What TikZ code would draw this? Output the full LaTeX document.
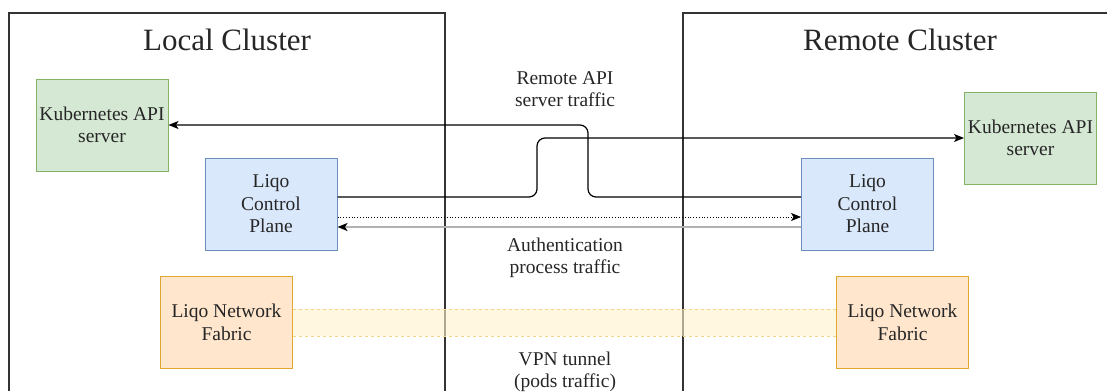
\documentclass[tikz,border=0pt]{standalone}
\usepackage{fontspec}
\setmainfont{Liberation Serif}
\usetikzlibrary{arrows.meta,positioning}
\definecolor{kgreen}{HTML}{D5E8D4}
\definecolor{kgreenline}{HTML}{82B366}
\definecolor{lblue}{HTML}{DAE8FC}
\definecolor{lblueline}{HTML}{6C8EBF}
\definecolor{nfill}{HTML}{FFE6CC}
\definecolor{nline}{HTML}{E0A830}
\definecolor{tunnel}{HTML}{FFF2CC}
\definecolor{tunnelline}{HTML}{F5D58A}
\definecolor{frame}{HTML}{333333}

\begin{document}
\begin{tikzpicture}[x=1pt,y=-1pt,
	txt/.style={font=\fontsize{19.5}{22.5}\selectfont, align=center, text=black!85},
	title/.style={font=\fontsize{31}{36}\selectfont, text=black!85},
	box/.style={txt, draw, line width=1pt, minimum width=132pt, minimum height=92pt, inner sep=0pt},
	apibox/.style={box, fill=kgreen, draw=kgreenline},
	cpbox/.style={box, fill=lblue, draw=lblueline},
	nfbox/.style={box, fill=nfill, draw=nline},
	link/.style={line width=1.2pt, -{Stealth[length=10pt,width=8pt,inset=2.5pt]}},
	cluster/.style={draw=frame, line width=2pt}]
	\useasboundingbox (0,0) rectangle (1107,391);
	\draw[cluster] (9,391) -- (9,13) -- (445,13) -- (445,391);
	\draw[cluster] (1107,13) -- (683,13) -- (683,391);
	\node[title] (ltitle) at (227,40) {Local Cluster};
	\node[title] (rtitle) at (900,40) {Remote Cluster};
	\node[apibox] (lapi) at (102,125) {Kubernetes API\\server};
	\node[cpbox] (lcp) at (271,204) {Liqo\\Control\\Plane};
	\node[nfbox] (lnf) at (226.5,322.5) {Liqo Network\\Fabric};
	\node[apibox] (rapi) at (1030.5,138) {Kubernetes API\\server};
	\node[cpbox] (rcp) at (867.5,204) {Liqo\\Control\\Plane};
	\node[nfbox] (rnf) at (902.5,322.5) {Liqo Network\\Fabric};
	\node[txt] (apilabel) at (565,89) {Remote API\\server traffic};
	\node[txt] (authlabel) at (565,258) {Authentication\\process traffic};
	\node[txt] (vpnlabel) at (565,372) {VPN tunnel\\(pods traffic)};
	\fill[tunnel, opacity=0.6] ([yshift=13.5pt]lnf.east) rectangle ([yshift=-13.5pt]rnf.west);
	\draw[tunnelline, dashed, line width=1pt] ([yshift=13.5pt]lnf.east) -- ([yshift=13.5pt]rnf.west);
	\draw[tunnelline, dashed, line width=1pt] ([yshift=-13.5pt]lnf.east) -- ([yshift=-13.5pt]rnf.west);
	\draw[link, rounded corners=8pt] ([yshift=7pt]rcp.west) -- (588,197) -- (588,125) -- (lapi.east);
	\draw[link, rounded corners=8pt] ([yshift=7pt]lcp.east) -- (537,197) -- (537,138) -- (rapi.west);
	\draw[link, line width=0.8pt, dotted] ([yshift=-13pt]lcp.east) -- ([yshift=-13pt]rcp.west);
	\draw[link, line width=1.5pt, black!30, -{Stealth[length=10pt,width=8pt,inset=2.5pt,black]}] ([yshift=-23pt]rcp.west) -- ([yshift=-23pt]lcp.east);
\end{tikzpicture}
\end{document}
